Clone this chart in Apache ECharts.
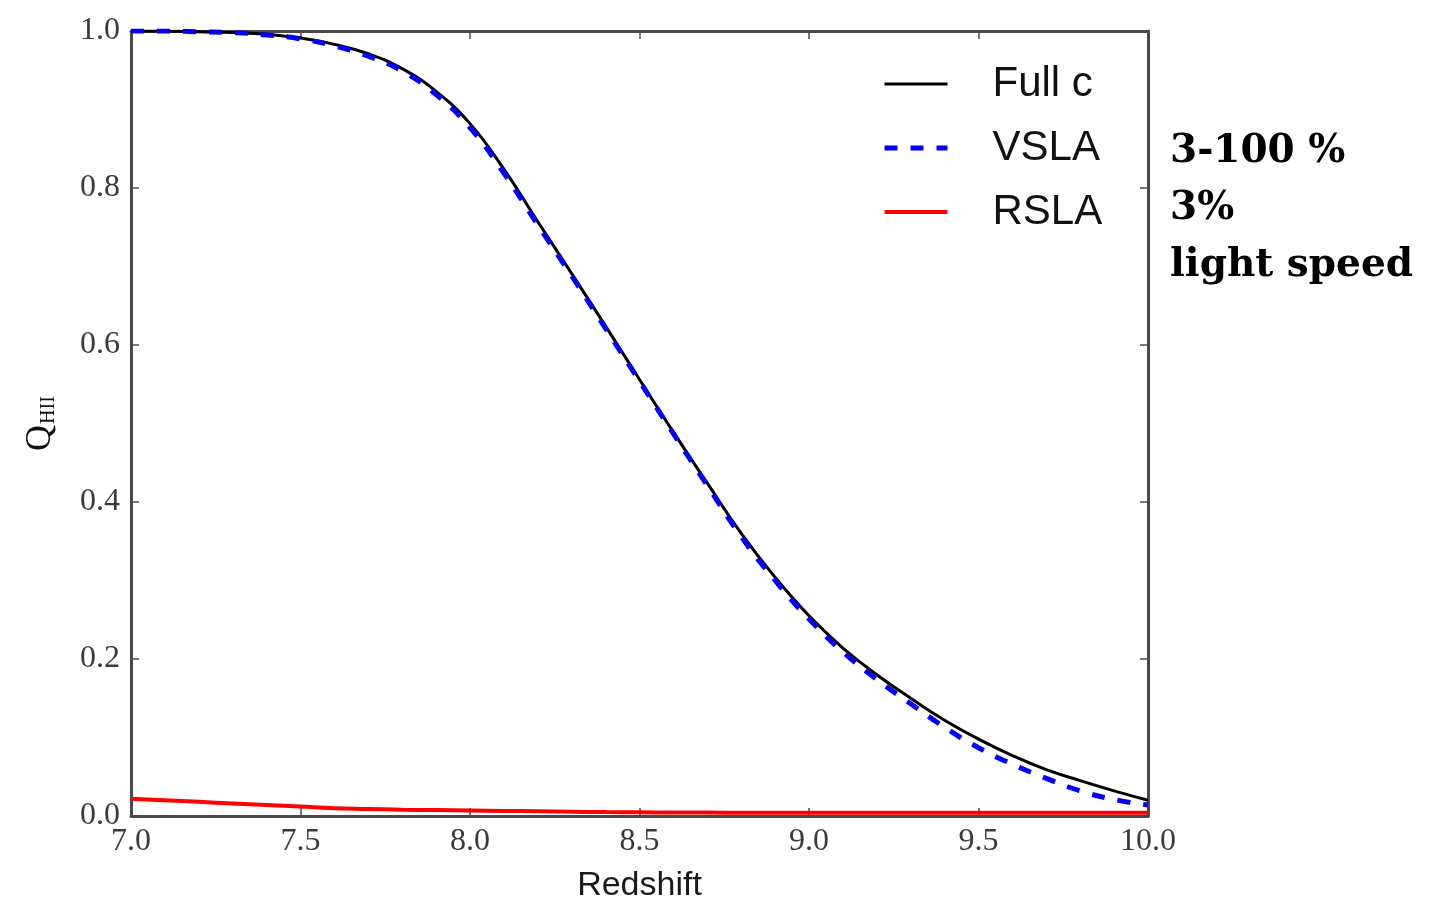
<!DOCTYPE html>
<html>
<head>
<meta charset="utf-8">
<title>Q_HII vs Redshift</title>
<script src="https://cdn.jsdelivr.net/npm/echarts@6/dist/echarts.min.js"></script>
<style>
  html, body { margin: 0; padding: 0; background: #fff; }
  #chart { width: 1431px; height: 903px; }
</style>
</head>
<body>
<div id="chart"></div>
<script>
// Redshift samples (x) and ionized fraction Q_HII for each model
const redshift = [7.0, 7.1, 7.2, 7.3, 7.4, 7.5, 7.6, 7.7, 7.8, 7.9,
                  8.0, 8.1, 8.2, 8.3, 8.4, 8.5, 8.6, 8.7, 8.8, 8.9,
                  9.0, 9.1, 9.2, 9.3, 9.4, 9.5, 9.6, 9.7, 9.8, 9.9, 10.0];

const fullC = [1.000, 1.000, 0.999, 0.998, 0.996, 0.991, 0.983, 0.971, 0.952, 0.923,
               0.882, 0.824, 0.757, 0.691, 0.624, 0.556, 0.489, 0.424, 0.360, 0.304,
               0.255, 0.214, 0.180, 0.150, 0.122, 0.098, 0.077, 0.059, 0.045, 0.032, 0.020];

const vsla  = [1.000, 1.000, 0.999, 0.998, 0.995, 0.990, 0.981, 0.968, 0.949, 0.919,
               0.877, 0.819, 0.753, 0.688, 0.621, 0.554, 0.487, 0.421, 0.356, 0.300,
               0.251, 0.209, 0.174, 0.143, 0.113, 0.087, 0.066, 0.048, 0.032, 0.021, 0.014];

const rsla  = [0.022, 0.020, 0.018, 0.016, 0.014, 0.012, 0.010, 0.009, 0.008, 0.0075,
               0.007, 0.0065, 0.006, 0.0055, 0.005, 0.0047, 0.0045, 0.0043, 0.0042, 0.0041,
               0.004, 0.004, 0.004, 0.004, 0.004, 0.004, 0.004, 0.004, 0.004, 0.004, 0.004];

const seriesNames = ['Full c', 'VSLA', 'RSLA'];
const xTicks = { min: 7, max: 10, step: 0.5 };
const yTicks = { min: 0, max: 1, step: 0.2 };
const sideNotes = ['3-100 %', '3%', 'light speed'];

const pair = (ys) => redshift.map((x, i) => [x, ys[i]]);

const frameColor = '#4a4a4a';
const tickFont = { fontFamily: 'Liberation Serif', fontSize: 32, color: '#3a3a3a' };

const lineStyles = [
  { color: '#000000', width: 3 },
  { color: '#0000ff', width: 5, type: [13, 13] },
  { color: '#ff0000', width: 4 }
];

function axisBase(extra) {
  return Object.assign({
    type: 'value',
    axisLine: { show: true, onZero: false, lineStyle: { color: frameColor, width: 3 } },
    axisTick: { show: true, inside: true, length: 8, lineStyle: { color: frameColor, width: 1.5 } },
    splitLine: { show: false }
  }, extra);
}

const chart = echarts.init(document.getElementById('chart'), null, { renderer: 'canvas' });

const option = {
  backgroundColor: '#ffffff',
  animation: false,
  grid: { left: 131, right: 283, top: 31, bottom: 87, containLabel: false, outerBoundsMode: 'none' },
  xAxis: [
    axisBase({
      position: 'bottom', min: xTicks.min, max: xTicks.max, interval: xTicks.step,
      axisLabel: Object.assign({ margin: 10, formatter: v => v.toFixed(1) }, tickFont),
      name: 'Redshift', nameLocation: 'middle', nameGap: 53,
      nameTextStyle: { fontFamily: 'Liberation Sans', fontSize: 34, color: '#1a1a1a' }
    }),
    axisBase({
      position: 'top', min: xTicks.min, max: xTicks.max, interval: xTicks.step,
      axisLabel: { show: false }
    })
  ],
  yAxis: [
    axisBase({
      position: 'left', min: yTicks.min, max: yTicks.max, interval: yTicks.step,
      axisLabel: Object.assign({ margin: 11, formatter: v => v.toFixed(1) }, tickFont),
      name: '{q|Q}{s|HII}', nameLocation: 'middle', nameRotate: 90, nameGap: 72,
      nameTextStyle: {
        rich: {
          q: { fontFamily: 'Liberation Serif', fontSize: 36, color: '#111', lineHeight: 36 },
          s: { fontFamily: 'Liberation Serif', fontSize: 20, color: '#111', lineHeight: 20,
               verticalAlign: 'bottom', padding: [0, 0, 0, 1] }
        }
      }
    }),
    axisBase({
      position: 'right', min: yTicks.min, max: yTicks.max, interval: yTicks.step,
      axisLabel: { show: false }
    })
  ],
  legend: {
    orient: 'vertical', left: 882, top: 63, padding: 0,
    itemWidth: 63, itemHeight: 20, itemGap: 22,
    itemStyle: { opacity: 0 },
    data: seriesNames.map((n, i) => ({ name: n, lineStyle: lineStyles[i], itemStyle: { opacity: 0 } })),
    textStyle: { fontFamily: 'Liberation Sans', fontSize: 42, color: '#111',
                 lineHeight: 40, padding: [0, 0, 0, 40] }
  },
  series: seriesNames.map((n, i) => ({
    name: n, type: 'line', data: pair([fullC, vsla, rsla][i]),
    smooth: 0.45, symbol: 'none', z: 2 + i,
    lineStyle: lineStyles[i], itemStyle: { color: lineStyles[i].color }
  })),
  graphic: sideNotes.map((t, i) => ({
    type: 'text', left: 1170, top: [132, 189, 246][i],
    style: { text: t, fontFamily: 'DejaVu Serif', fontWeight: 'bold', fontSize: 39, fill: '#000' }
  }))
};

chart.setOption(option);
</script>
</body>
</html>
